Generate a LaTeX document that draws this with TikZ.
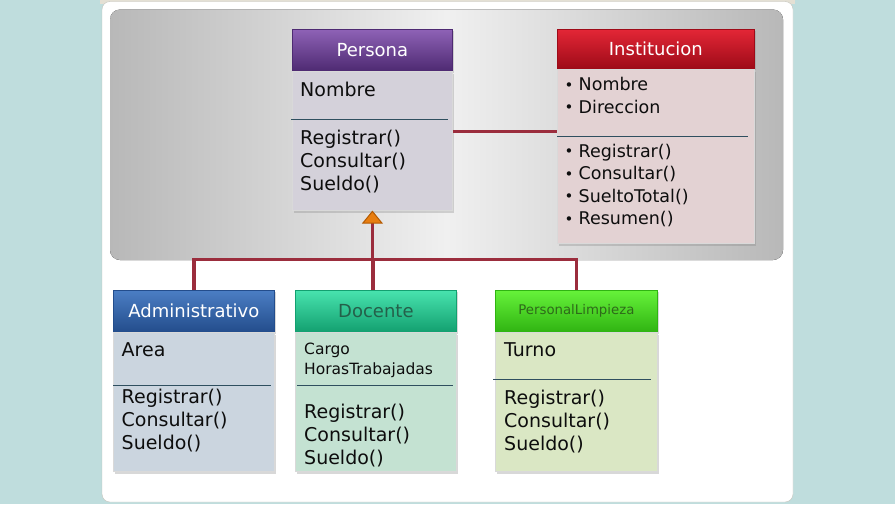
\documentclass[tikz,border=0pt]{standalone}
\usepackage{fontspec}
\setmainfont{DejaVu Sans}
\usetikzlibrary{arrows.meta,positioning,shadows}
\definecolor{BgTeal}{HTML}{BFDDDD}
\definecolor{PanelTop}{HTML}{E4E0D4}
\definecolor{PanelEdge}{HTML}{C4C4BC}
\definecolor{GrayEdge}{HTML}{B8B8B8}
\definecolor{GrayMid}{HTML}{F0F0F0}
\definecolor{LinkRed}{HTML}{9B2D3D}
\definecolor{TriFill}{HTML}{E87E10}
\definecolor{TriEdge}{HTML}{B45A00}
\definecolor{SepLine}{HTML}{2F4F5F}
\definecolor{PersonaTop}{HTML}{8E62B6}
\definecolor{PersonaBot}{HTML}{4E2A72}
\definecolor{PersonaBody}{HTML}{D4D1DA}
\definecolor{InstTop}{HTML}{E32636}
\definecolor{InstBot}{HTML}{9E0B18}
\definecolor{InstBody}{HTML}{E3D2D3}
\definecolor{AdminTop}{HTML}{4B7EC4}
\definecolor{AdminBot}{HTML}{234D8C}
\definecolor{AdminBody}{HTML}{CBD5DF}
\definecolor{DocTop}{HTML}{48E3AE}
\definecolor{DocBot}{HTML}{13A070}
\definecolor{DocText}{HTML}{24604A}
\definecolor{DocBody}{HTML}{C4E2D2}
\definecolor{LimpTop}{HTML}{66F23A}
\definecolor{LimpBot}{HTML}{30B412}
\definecolor{LimpText}{HTML}{2E6A1A}
\definecolor{LimpBody}{HTML}{DAE7C4}
\newcommand{\headfont}{\fontsize{18}{21}\selectfont}
\newcommand{\memberfont}{\fontsize{19}{22}\selectfont}
\newcommand{\instfont}{\fontsize{17.5}{20}\selectfont}
\newcommand{\smallmemberfont}{\fontsize{15.5}{18}\selectfont}
\newcommand{\instbullet}{\makebox[12.5pt][l]{\hspace{-1.5pt}\fontsize{15}{15}\selectfont\raisebox{0.5pt}{•}}}
\tikzset{
  classhead/.style={anchor=north west, inner sep=0pt, minimum height=41.5pt, font=\headfont, text=white, line width=0.8pt, drop shadow={opacity=0.3, shadow xshift=2pt, shadow yshift=-2pt}},
  classbody/.style={inner sep=0pt, draw=white!70!gray, line width=0.8pt, drop shadow={opacity=0.3, shadow xshift=2pt, shadow yshift=-2.5pt}},
  member/.style={anchor=base west, inner sep=0pt, font=\memberfont, text=black!95},
  instmember/.style={anchor=base west, inner sep=0pt, font=\instfont, text=black!95},
  sepline/.style={draw=SepLine, line width=1pt},
  link/.style={draw=LinkRed, line width=3.2pt}
}

\begin{document}
\begin{tikzpicture}[x=1pt,y=-1pt]
\useasboundingbox (0,0) rectangle (895,504);
% backdrop
\fill[BgTeal] (0,0) rectangle (895,504);
\fill[PanelTop] (100,0) rectangle (795,4);
\filldraw[fill=white, draw=PanelEdge, rounded corners=8pt] (102,1.5) rectangle (793,502);
\fill[rounded corners=10pt, left color=GrayEdge, right color=GrayEdge, middle color=GrayMid] (110,9.5) rectangle (783,260);

% Persona
\node[classhead, top color=PersonaTop, bottom color=PersonaBot, draw=PersonaBot, minimum width=160pt] (persona) at (292,29) {Persona};
\node[classbody, fill=PersonaBody, minimum width=160pt, minimum height=138.5pt, below=0pt of persona] (personaBody) {};
\draw[sepline] (291,119) -- (448,119);
\node[member] (personaA1) at (300,96) {Nombre};
\foreach \m [count=\i] in {Registrar(),Consultar(),Sueldo()}
  \node[member] (personaM\i) at (300,121+23*\i) {\m};

% Institucion
\node[classhead, top color=InstTop, bottom color=InstBot, draw=InstBot, minimum width=197pt, minimum height=39pt] (institucion) at (557,29) {Institucion};
\node[classbody, fill=InstBody, minimum width=197pt, minimum height=174.5pt, below=0pt of institucion] (institucionBody) {};
\draw[sepline] (557,136) -- (748,136);
\foreach \a [count=\i] in {Nombre,Direccion}
  \node[instmember] (instA\i) at (566,68.5+22.3*\i) {\instbullet\a};
\foreach \m [count=\i] in {Registrar(),Consultar(),SueltoTotal(),Resumen()}
  \node[instmember] (instM\i) at (566,134.5+22.6*\i) {\instbullet\m};

% Administrativo
\node[classhead, top color=AdminTop, bottom color=AdminBot, draw=AdminBot, minimum width=161pt] (admin) at (113,290) {Administrativo};
\node[classbody, fill=AdminBody, minimum width=161pt, minimum height=139pt, below=0pt of admin] (adminBody) {};
\draw[sepline] (113,385) -- (271,385);
\node[member] (adminA1) at (121.5,356) {Area};
\foreach \m [count=\i] in {Registrar(),Consultar(),Sueldo()}
  \node[member] (adminM\i) at (121.5,380+23.3*\i) {\m};

% Docente
\node[classhead, top color=DocTop, bottom color=DocBot, draw=DocBot, text=DocText, minimum width=161pt] (docente) at (295,290) {Docente};
\node[classbody, fill=DocBody, minimum width=161pt, minimum height=139pt, below=0pt of docente] (docenteBody) {};
\draw[sepline] (297,385) -- (453,385);
\node[member, font=\smallmemberfont] (docenteA1) at (304,354) {Cargo};
\node[member, font=\smallmemberfont] (docenteA2) at (304,374) {HorasTrabajadas};
\foreach \m [count=\i] in {Registrar(),Consultar(),Sueldo()}
  \node[member] (docenteM\i) at (304,395+23.2*\i) {\m};

% PersonalLimpieza
\node[classhead, top color=LimpTop, bottom color=LimpBot, draw=LimpBot, text=LimpText, font=\fontsize{13.3}{16}\selectfont, minimum width=162pt] (limpieza) at (495,290) {PersonalLimpieza};
\node[classbody, fill=LimpBody, minimum width=162pt, minimum height=139pt, below=0pt of limpieza] (limpiezaBody) {};
\draw[sepline] (493,379) -- (651,379);
\node[member] (limpiezaA1) at (504,356) {Turno};
\foreach \m [count=\i] in {Registrar(),Consultar(),Sueldo()}
  \node[member] (limpiezaM\i) at (504,381+23.2*\i) {\m};

% connectors
\coordinate (hub) at ([yshift=-49pt]personaBody.south);
\draw[link] (admin.north) |- (hub) -| (limpieza.north);
\draw[link] ([xshift=-3pt]docente.north) |- (hub);
\draw[link, -{Triangle[length=13pt, width=21pt, line width=1pt, color=TriEdge, fill=TriFill]}] (hub) -- (personaBody.south);
\draw[link] ([yshift=9.25pt]personaBody.east) -- ([yshift=9.25pt]personaBody.east -| institucionBody.west);
\end{tikzpicture}
\end{document}
